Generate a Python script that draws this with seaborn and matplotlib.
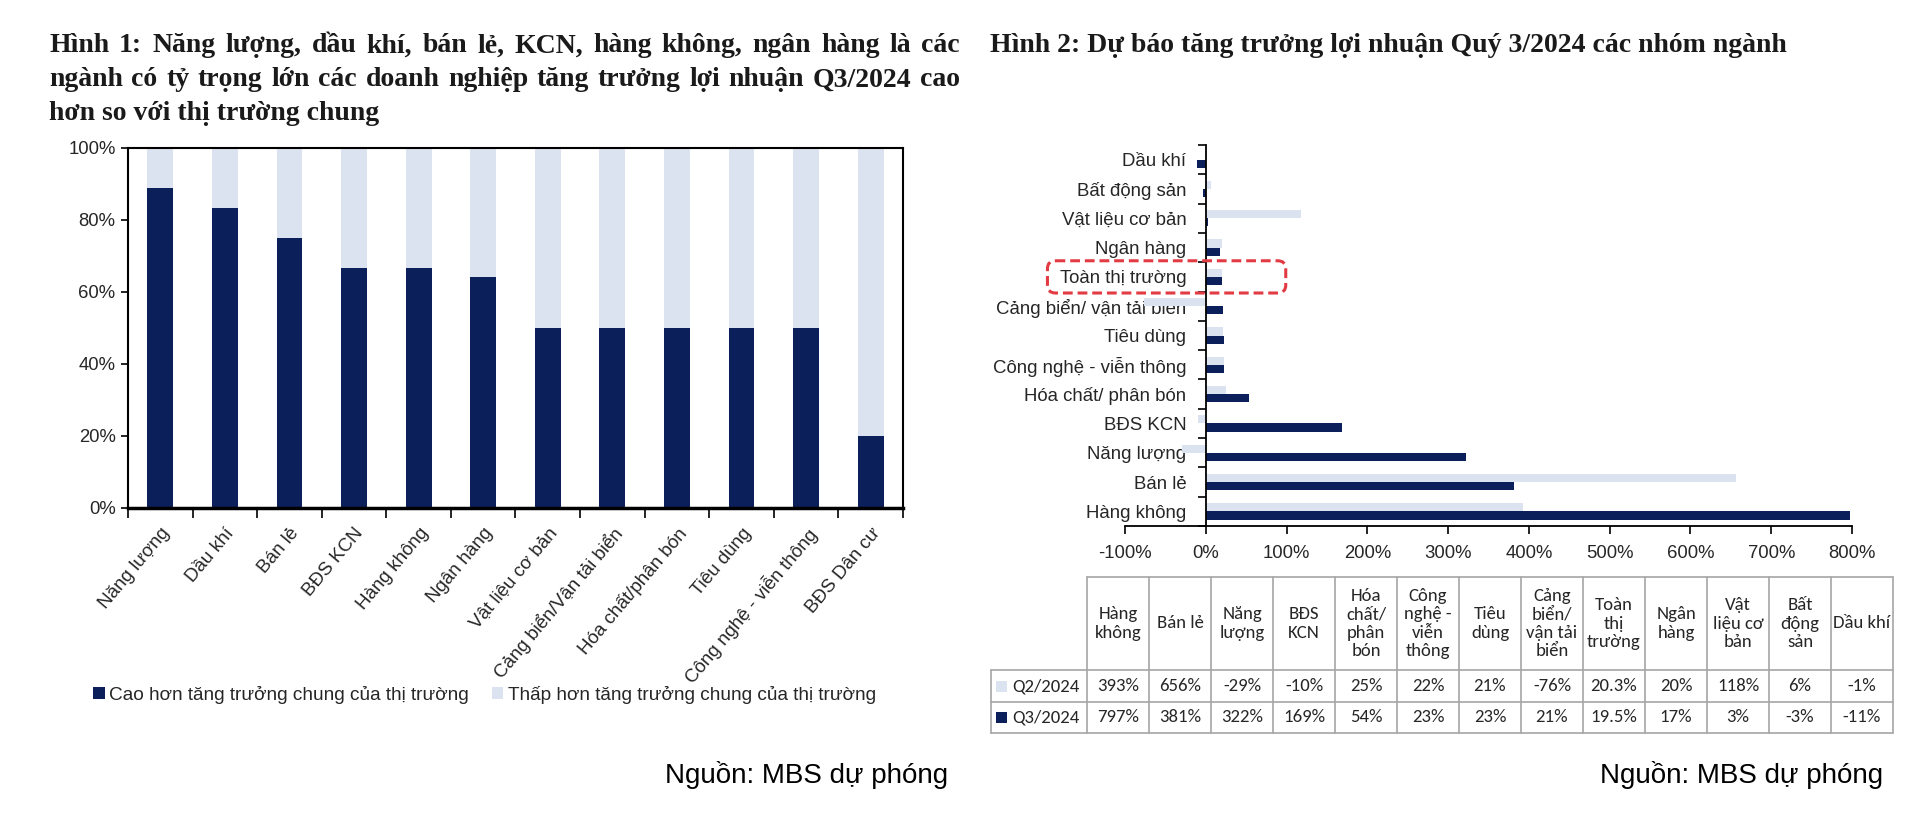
import numpy as np
import pandas as pd
import matplotlib
matplotlib.use("Agg")
import matplotlib.pyplot as plt
import seaborn as sns
from matplotlib.patches import Patch, FancyBboxPatch, Rectangle
from matplotlib.lines import Line2D
from matplotlib import font_manager as fm
from matplotlib.ticker import FixedLocator, FuncFormatter

# ------------------------- data -------------------------
left_categories = ["Năng lượng", "Dầu khí", "Bán lẻ", "BĐS KCN", "Hàng không", "Ngân hàng",
                   "Vật liệu cơ bản", "Cảng biển/Vận tải biển", "Hóa chất/phân bón",
                   "Tiêu dùng", "Công nghệ - viễn thông", "BĐS Dân cư"]
left_above = [88.9, 83.3, 75.0, 66.7, 66.7, 64.3, 50, 50, 50, 50, 50, 20]
left_below = [11.1, 16.7, 25.0, 33.3, 33.3, 35.7, 50, 50, 50, 50, 50, 80]
left_series = ["Cao hơn tăng trưởng chung của thị trường",
               "Thấp hơn tăng trưởng chung của thị trường"]
left_yticks = [0, 20, 40, 60, 80, 100]

right_categories = ["Hàng không", "Bán lẻ", "Năng lượng", "BĐS KCN", "Hóa chất/ phân bón",
                    "Công nghệ - viễn thông", "Tiêu dùng", "Cảng biển/ vận tải biển",
                    "Toàn thị trường", "Ngân hàng", "Vật liệu cơ bản", "Bất động sản", "Dầu khí"]
table_headers = ["Hàng\nkhông", "Bán lẻ", "Năng\nlượng", "BĐS\nKCN", "Hóa\nchất/\nphân\nbón",
                 "Công\nnghệ -\nviễn\nthông", "Tiêu\ndùng", "Cảng\nbiển/\nvận tải\nbiển",
                 "Toàn\nthị\ntrường", "Ngân\nhàng", "Vật\nliệu cơ\nbản", "Bất\nđộng\nsản", "Dầu khí"]
q2_values = [393, 656, -29, -10, 25, 22, 21, -76, 20.3, 20, 118, 6, -1]
q3_values = [797, 381, 322, 169, 54, 23, 23, 21, 19.5, 17, 3, -3, -11]
periods = ["Q2/2024", "Q3/2024"]
right_xticks = [-100, 0, 100, 200, 300, 400, 500, 600, 700, 800]
highlight = "Toàn thị trường"

title_left = ["Hình 1: Năng lượng, dầu khí, bán lẻ, KCN, hàng không, ngân hàng là các",
              "ngành có tỷ trọng lớn các doanh nghiệp tăng trưởng lợi nhuận Q3/2024 cao",
              "hơn so với thị trường chung"]
title_right = "Hình 2: Dự báo tăng trưởng lợi nhuận Quý 3/2024 các nhóm ngành"
source_text = "Nguồn: MBS dự phóng"

# ------------------------- style -------------------------
DARK = "#0B1F5B"
LIGHT = "#DCE3F0"
TXT = "#262626"
RED = "#E23B44"
GRID = "#A6A6A6"

sns.set_theme(style="white")
plt.rcParams["font.family"] = ["Liberation Sans", "DejaVu Sans"]

avail = {f.name for f in fm.fontManager.ttflist}
if "Carlito" in avail:
    TFONT, TSIZE = ["Carlito", "Liberation Sans"], 13.5
elif "Liberation Sans Narrow" in avail:
    TFONT, TSIZE = ["Liberation Sans Narrow", "Liberation Sans"], 13.5
else:
    TFONT, TSIZE = ["Liberation Sans", "DejaVu Sans"], 12
SERIF = ["Liberation Serif", "DejaVu Serif"]
TITLE_SIZE = 20

W, H = 1920, 818
fig = plt.figure(figsize=(W / 100, H / 100), dpi=100)
fig.patch.set_facecolor("white")
renderer = fig.canvas.get_renderer()


def fx(px):
    return px / W


def fy(py):
    return 1 - py / H


pct = FuncFormatter(lambda v, p: f"{v:.0f}%")

# ------------------------- left chart -------------------------
ax1 = fig.add_axes([fx(128), fy(508), (903 - 128) / W, (508 - 148) / H])
df_left = pd.DataFrame({"cat": left_categories,
                        "above": left_above,
                        "total": np.add(left_above, left_below)})
sns.barplot(data=df_left, x="cat", y="total", color=LIGHT, saturation=1,
            width=0.4, errorbar=None, ax=ax1, linewidth=0)
sns.barplot(data=df_left, x="cat", y="above", color=DARK, saturation=1,
            width=0.4, errorbar=None, ax=ax1, linewidth=0)
ax1.set_xlim(-0.5, len(left_categories) - 0.5)
ax1.set_ylim(0, 100)
ax1.set_xlabel("")
ax1.set_ylabel("")
ax1.yaxis.set_major_locator(FixedLocator(left_yticks))
ax1.yaxis.set_major_formatter(pct)
ax1.tick_params(axis="y", direction="out", length=5, width=1.2, color="black",
                labelsize=13.3, labelcolor=TXT, pad=4, left=True)
ax1.set_xticks(range(len(left_categories)))
ax1.set_xticklabels(left_categories, rotation=50, ha="right", rotation_mode="anchor")
ax1.tick_params(axis="x", which="major", length=0, labelsize=13.5, labelcolor=TXT, pad=12)
ax1.xaxis.set_minor_locator(FixedLocator(np.arange(-0.5, len(left_categories), 1.0)))
ax1.tick_params(axis="x", which="minor", direction="out", length=7, width=1.2,
                color="black", bottom=True)
for s in ["left", "top", "right"]:
    ax1.spines[s].set_visible(True)
    ax1.spines[s].set_color("black")
    ax1.spines[s].set_linewidth(1.5)
ax1.spines["bottom"].set_color("black")
ax1.spines["bottom"].set_linewidth(2.5)

fig.legend(handles=[Patch(facecolor=DARK, edgecolor="none", label=left_series[0]),
                    Patch(facecolor=LIGHT, edgecolor="none", label=left_series[1])],
           loc="center left", bbox_to_anchor=(fx(76), fy(695)), ncol=2, frameon=False,
           fontsize=13.7, handlelength=0.6, handleheight=0.6, handletextpad=0.25,
           columnspacing=1.2, labelcolor=TXT)

# ------------------------- right chart -------------------------
ax2 = fig.add_axes([fx(1125), fy(526), (1852 - 1125) / W, (526 - 145) / H])
df_right = pd.DataFrame({
    "cat": right_categories * 2,
    "val": q2_values + q3_values,
    "period": [periods[0]] * len(right_categories) + [periods[1]] * len(right_categories),
})
order = right_categories[::-1]
sns.barplot(data=df_right, y="cat", x="val", hue="period", order=order,
            hue_order=periods, palette=[LIGHT, DARK], orient="h", width=0.56,
            saturation=1, errorbar=None, legend=False, ax=ax2, linewidth=0)
ax2.set_xlim(right_xticks[0], right_xticks[-1])
ax2.set_ylim(len(order) - 0.5, -0.5)
ax2.set_xlabel("")
ax2.set_ylabel("")
ax2.xaxis.set_major_locator(FixedLocator(right_xticks))
ax2.xaxis.set_major_formatter(pct)
ax2.tick_params(axis="x", direction="out", length=6, width=1.2, color="black",
                labelsize=13.3, labelcolor=TXT, pad=8, bottom=True)
ax2.tick_params(axis="y", which="major", length=0, labelsize=13.4, labelcolor=TXT, pad=14)
ax2.yaxis.set_minor_locator(FixedLocator(np.arange(-0.5, len(order), 1.0)))
ax2.tick_params(axis="y", which="minor", direction="out", length=6, width=1.2,
                color="black", left=True)
ax2.spines["top"].set_visible(False)
ax2.spines["right"].set_visible(False)
ax2.spines["left"].set_position(("data", 0))
ax2.spines["left"].set_color("black")
ax2.spines["left"].set_linewidth(1.3)
ax2.spines["bottom"].set_color("black")
ax2.spines["bottom"].set_linewidth(1.3)

hi = order.index(highlight)
box = FancyBboxPatch((-196, hi - 0.55), 295, 1.1,
                     boxstyle="round,pad=0,rounding_size=10", mutation_aspect=0.027,
                     fill=False, edgecolor=RED, linewidth=2.2, linestyle=(0, (3.2, 1.6)),
                     clip_on=False, zorder=5)
ax2.add_patch(box)

# ------------------------- table -------------------------
x_label0, x_label1 = 991, 1087
col_w = 62
y_top, y_head, y_row1, y_row2 = 577, 670, 702, 733
ncol = len(table_headers)
edges = [x_label1 + col_w * i for i in range(ncol + 1)]


def hline(y, x0, x1):
    fig.add_artist(Line2D([fx(x0), fx(x1)], [fy(y), fy(y)], transform=fig.transFigure,
                          color=GRID, lw=1.2))


def vline(x, y0, y1):
    fig.add_artist(Line2D([fx(x), fx(x)], [fy(y0), fy(y1)], transform=fig.transFigure,
                          color=GRID, lw=1.2))


hline(y_top, edges[0], edges[-1])
for y in (y_head, y_row1, y_row2):
    hline(y, x_label0, edges[-1])
for x in edges:
    vline(x, y_top, y_row2)
vline(x_label0, y_head, y_row2)

for i, head in enumerate(table_headers):
    cx = (edges[i] + edges[i + 1]) / 2
    fig.text(fx(cx), fy((y_top + y_head) / 2), head, ha="center", va="center",
             fontsize=TSIZE, family=TFONT, color=TXT, linespacing=1.2)
    fig.text(fx(cx), fy((y_head + y_row1) / 2), f"{q2_values[i]:g}%", ha="center",
             va="center", fontsize=TSIZE, family=TFONT, color=TXT)
    fig.text(fx(cx), fy((y_row1 + y_row2) / 2), f"{q3_values[i]:g}%", ha="center",
             va="center", fontsize=TSIZE, family=TFONT, color=TXT)

for (ya, yb), col, lab in zip([(y_head, y_row1), (y_row1, y_row2)], [LIGHT, DARK], periods):
    cy = (ya + yb) / 2
    fig.add_artist(Rectangle((fx(996), fy(cy + 5.5)), 11 / W, 11 / H,
                             transform=fig.transFigure, facecolor=col, edgecolor="none"))
    fig.text(fx(1012), fy(cy), lab, ha="left", va="center", fontsize=TSIZE,
             family=TFONT, color=TXT)


# ------------------------- titles & sources -------------------------
def justified_line(text, x0, x1, yc):
    words = text.split(" ")
    arts = [fig.text(0, fy(yc), w, ha="left", va="center", fontsize=TITLE_SIZE,
                     family=SERIF, weight="bold", color="#1A1A1A") for w in words]
    widths = [a.get_window_extent(renderer=renderer).width for a in arts]
    gap = (x1 - x0 - sum(widths)) / max(len(words) - 1, 1)
    x = x0
    for a, wd in zip(arts, widths):
        a.set_x(fx(x))
        x += wd + gap


justified_line(title_left[0], 49, 960, 46)
justified_line(title_left[1], 49, 960, 80)
fig.text(fx(49), fy(113), title_left[2], ha="left", va="center", fontsize=TITLE_SIZE,
         family=SERIF, weight="bold", color="#1A1A1A")
fig.text(fx(990), fy(46), title_right, ha="left", va="center", fontsize=TITLE_SIZE,
         family=SERIF, weight="bold", color="#1A1A1A")
fig.text(fx(948), fy(775), source_text, ha="right", va="center", fontsize=20, color="black")
fig.text(fx(1883), fy(775), source_text, ha="right", va="center", fontsize=20, color="black")

fig.savefig("out.png", dpi=100, facecolor="white")
